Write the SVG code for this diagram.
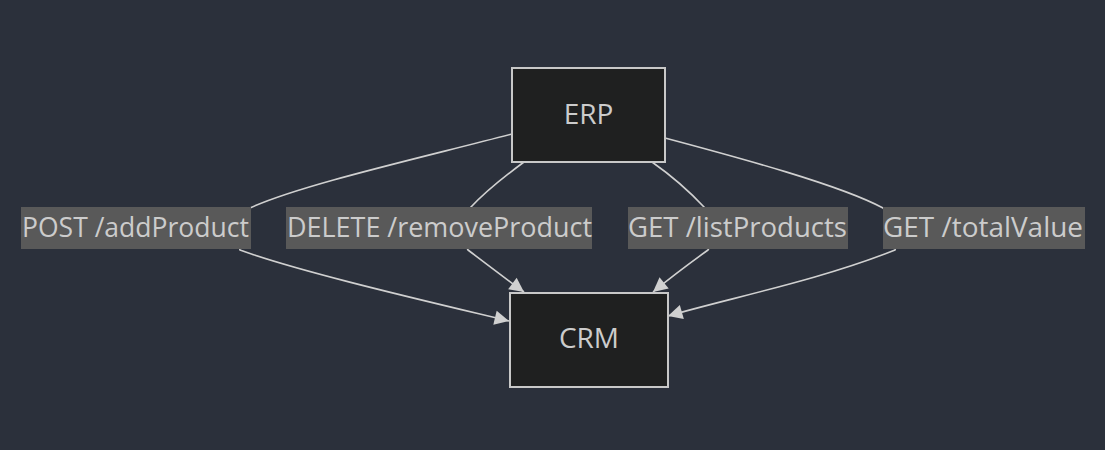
<svg xmlns="http://www.w3.org/2000/svg" width="1105" height="450" viewBox="0 0 1105 450">
<style>
.bg{fill:#2b303b}
.node rect{fill:#1f2020;stroke:#c8c8c8;stroke-width:2}
.node text{fill:#cccccc;font-family:"Open Sans","DejaVu Sans",sans-serif;font-size:28px;text-anchor:middle}
.edge{fill:none;stroke:#d0d0d0;stroke-width:1.6}
.lbl rect{fill:#595959}
.lbl text{fill:#cccccc;font-family:"Open Sans","DejaVu Sans",sans-serif;font-size:28px}
</style>
<defs>
<marker id="arr" viewBox="0 0 10 10" refX="10" refY="5" markerWidth="9" markerHeight="9" markerUnits="userSpaceOnUse" orient="auto" overflow="visible">
<path d="M0,0 L10,5 L0,10 z" fill="#d0d0d0" transform="scale(1.6)" transform-origin="10 5"/>
</marker>
</defs>
<rect class="bg" x="0" y="0" width="1105" height="450"/>
<g id="connectors">
<path class="edge" d="M512,134 C420,158 300,185 250,208 C238,220 236,240 240,250 C300,272 430,302 509,321" marker-end="url(#arr)"/>
<path class="edge" d="M524,162 C505,176 485,192 470,208 C462,222 462,240 468,250 C485,263 505,278 524,292" marker-end="url(#arr)"/>
<path class="edge" d="M652,162 C672,176 690,192 705,208 C712,222 714,240 708,250 C690,263 670,278 653,292" marker-end="url(#arr)"/>
<path class="edge" d="M665,138 C740,158 840,185 883,208 C895,222 900,240 895,250 C820,280 730,298 668,316" marker-end="url(#arr)"/>
</g>
<g id="label-addProduct" class="lbl">
<rect x="21" y="207" width="230" height="42"/>
<text x="22" y="237" textLength="227" lengthAdjust="spacingAndGlyphs">POST /addProduct</text>
</g>
<g id="label-removeProduct" class="lbl">
<rect x="286" y="207" width="306" height="42"/>
<text x="287" y="237" textLength="305" lengthAdjust="spacingAndGlyphs">DELETE /removeProduct</text>
</g>
<g id="label-listProducts" class="lbl">
<rect x="628" y="207" width="220" height="42"/>
<text x="628" y="237" textLength="219" lengthAdjust="spacingAndGlyphs">GET /listProducts</text>
</g>
<g id="label-totalValue" class="lbl">
<rect x="883" y="207" width="202" height="42"/>
<text x="883" y="237" textLength="200" lengthAdjust="spacingAndGlyphs">GET /totalValue</text>
</g>
<g id="node-ERP" class="node">
<rect x="512" y="68" width="153" height="94"/>
<text x="588.5" y="124">ERP</text>
</g>
<g id="node-CRM" class="node">
<rect x="510" y="293" width="158" height="94"/>
<text x="589" y="348">CRM</text>
</g>
</svg>
